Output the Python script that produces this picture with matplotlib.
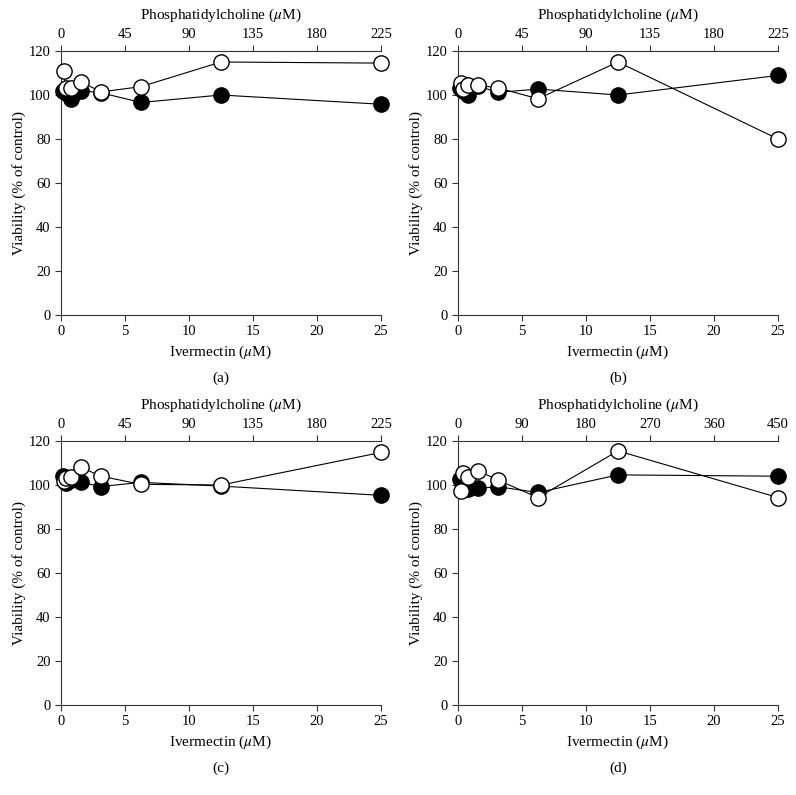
import matplotlib
matplotlib.use("Agg")
import matplotlib.pyplot as plt

plt.rcParams["font.family"] = ["Liberation Serif", "DejaVu Serif"]
plt.rcParams["mathtext.fontset"] = "stix"

# ─────────────────────────────────────────────
#  Data
# ─────────────────────────────────────────────

ivermectin = [0.195, 0.39, 0.78, 1.56, 3.125, 6.25, 12.5, 25]
pc_225 = [1.76, 3.52, 7.03, 14.1, 28.1, 56.25, 112.5, 225]
pc_450 = [3.52, 7.03, 14.1, 28.1, 56.25, 112.5, 225, 450]

iver_a = [101.7, 101, 98.3, 102, 101, 96.6, 100, 95.8]
pc_a = [110.8, 103.2, 103, 106, 101.4, 103.8, 115, 114.5]

iver_b = [103, 102, 100, 104, 101.2, 102.7, 100, 108.9]
pc_b = [105.3, 102.5, 104.5, 104.5, 103.2, 98.3, 115, 80]

iver_c = [104, 101, 102.5, 101.2, 99.3, 101.2, 99.5, 95.3]
pc_c = [102, 103, 103.5, 108, 104, 100.3, 100, 114.8]

iver_d = [102.7, 98.5, 98.2, 98.5, 99.2, 96.6, 104.6, 104]
pc_d = [97.5, 105.3, 103.5, 106.5, 102.2, 94.3, 115.5, 94.3]

panels = [
    ("(a)", iver_a, pc_225, pc_a, 225, [0, 45, 90, 135, 180, 225]),
    ("(b)", iver_b, pc_225, pc_b, 225, [0, 45, 90, 135, 180, 225]),
    ("(c)", iver_c, pc_225, pc_c, 225, [0, 45, 90, 135, 180, 225]),
    ("(d)", iver_d, pc_450, pc_d, 450, [0, 90, 180, 270, 360, 450]),
]

W, H = 796, 795
# axes boxes in pixels: left, top, right, bottom
boxes = [(61, 51, 381, 315), (458, 51, 778, 315),
         (61, 441, 381, 705), (458, 441, 778, 705)]

fig = plt.figure(figsize=(W / 100, H / 100), dpi=100)

for (label, iv_y, pc_x, pc_y, pc_max, pc_ticks), (l, t, r, b) in zip(panels, boxes):
    ax = fig.add_axes([l / W, 1 - b / H, (r - l) / W, (b - t) / H])
    ax.plot(ivermectin, iv_y, "-o", color="black", lw=0.8, ms=11,
            mfc="black", mec="black", mew=1, clip_on=False, zorder=3)
    ax.set_xlim(0, 25)
    ax.set_ylim(0, 120)
    ax.set_xticks([0, 5, 10, 15, 20, 25])
    ax.set_yticks(range(0, 121, 20))
    ax.spines["right"].set_visible(False)
    ax.spines["top"].set_visible(False)
    for s in ("left", "bottom"):
        ax.spines[s].set_linewidth(0.8)
        ax.spines[s].set_color("#333333")
    ax.tick_params(direction="out", length=4, width=0.8, labelsize=10.5, color="#333333")
    ax.set_xlabel(r"Ivermectin ($\mu$M)", fontsize=11, labelpad=4)
    ax.set_ylabel("Viability (% of control)", fontsize=11, labelpad=2)
    ax.text(0.5, -0.238, label, transform=ax.transAxes, ha="center", va="center",
            fontsize=11)

    ax2 = ax.twiny()
    ax2.plot(pc_x, pc_y, "-o", color="black", lw=0.8, ms=11,
             mfc="white", mec="black", mew=1, clip_on=False, zorder=4)
    ax2.set_xlim(0, pc_max)
    ax2.set_xticks(pc_ticks)
    for s in ("right", "bottom", "left"):
        ax2.spines[s].set_visible(False)
    ax2.spines["top"].set_linewidth(0.8)
    ax2.spines["top"].set_color("#333333")
    ax2.tick_params(direction="out", length=4, width=0.8, labelsize=10.5, color="#333333")
    ax2.set_xlabel(r"Phosphatidylcholine ($\mu$M)", fontsize=11, labelpad=6)

fig.savefig("out.png", dpi=100)
